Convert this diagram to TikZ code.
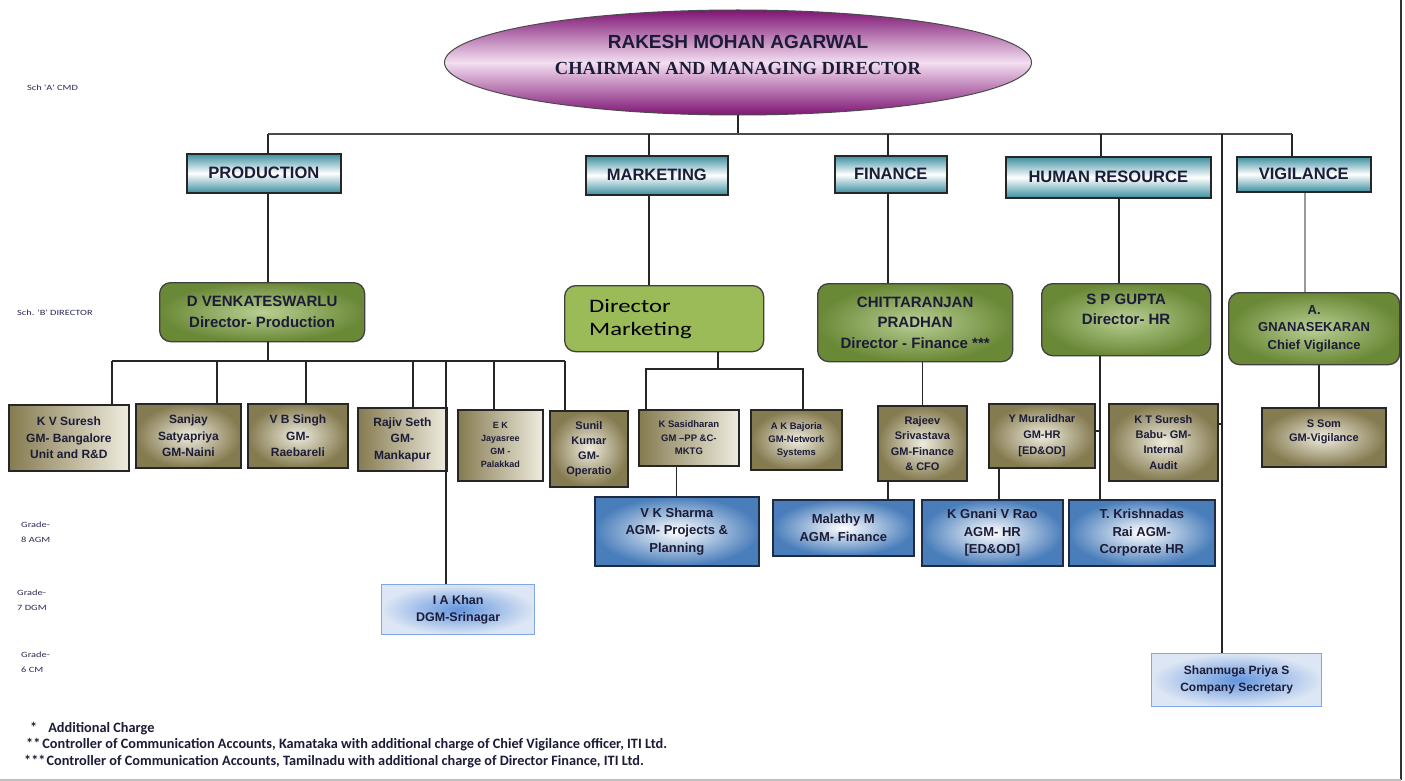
\documentclass[tikz,border=0pt]{standalone}
\usepackage{fontspec}
\setmainfont{Liberation Sans}
\newfontfamily\serifb{Liberation Serif}
\newfontfamily\calib{Carlito}
\newfontfamily\calibwide{Carlito}[FakeStretch=1.3]
\usetikzlibrary{shapes.geometric}
\newcommand\myfs[2]{\fontsize{#1}{#2}\selectfont}
\definecolor{txt}{HTML}{1C1C38}
\definecolor{purpleD}{HTML}{7E1574}
\definecolor{purpleL}{HTML}{F4DFF1}
\definecolor{tealD}{HTML}{3C8FA0}
\definecolor{greenD}{HTML}{6A8937}
\definecolor{greenL}{HTML}{B9CF93}
\definecolor{greenM}{HTML}{9BBB59}
\definecolor{oliveD}{HTML}{857B50}
\definecolor{oliveL}{HTML}{EFECDF}
\definecolor{blueD}{HTML}{4A7EBB}
\definecolor{navyB}{HTML}{1F2A44}
\definecolor{blueL}{HTML}{DCE6F4}
\definecolor{blueM}{HTML}{6495DE}
\definecolor{blueE}{HTML}{7FA6E6}
\definecolor{sideC}{HTML}{2A2A55}
\tikzset{
 base/.style={anchor=north west, inner sep=0pt, align=center, text=txt},
 dept/.style={base, draw=black!85, line width=1.6pt, top color=tealD, bottom color=tealD, middle color=white, font=\myfs{16.5}{18}\bfseries},
 dir/.style={base, draw=black!75, line width=1.3pt, rounded corners=11pt, inner color=greenL, outer color=greenD, font=\myfs{15}{21}\bfseries},
 gm/.style={base, draw=black!85, line width=1.8pt, font=\myfs{12}{16.5}\bfseries},
 gmlr/.style={gm, left color=oliveD, right color=oliveL},
 gmrad/.style={gm, inner color=oliveL, outer color=oliveD},
 agm/.style={base, draw=navyB, line width=1.6pt, inner color=white, outer color=blueD, font=\myfs{13}{17.5}\bfseries},
 lblue/.style={base, draw=blueE, line width=1.3pt, inner color=blueM, outer color=blueL, font=\myfs{12.5}{17}\bfseries},
 conn/.style={draw=black!85, line width=1.3pt},
 side/.style={font=\calibwide\myfs{8}{15}, text=sideC, anchor=west, inner sep=0pt, align=left},
 foot/.style={font=\calib\bfseries\myfs{14.3}{16}, text=txt, anchor=west, inner sep=0pt},
}
\begin{document}
\begin{tikzpicture}[x=1pt,y=-1pt]
\useasboundingbox (0,0) rectangle (1405,781);
\fill[white] (0,0) rectangle (1405,781);

% page border
\draw[black!80, line width=1.2pt] (1401,0) -- (1401,780);
\draw[black!25, line width=2pt] (0,780) -- (1401,780);

% chairman
\node[ellipse, draw=black!70, line width=1pt, top color=purpleD, bottom color=purpleD, middle color=purpleL,
      minimum width=587pt, minimum height=105pt, inner sep=0pt] (cmd) at (738,62.5) {};
\node[text=txt, align=center, inner sep=0pt, font=\myfs{19}{26}] (cmdt) at (738,55)
 {{\bfseries RAKESH MOHAN AGARWAL}\\{\serifb\myfs{18.5}{26}\bfseries CHAIRMAN AND MANAGING DIRECTOR}};

% departments
\node[dept, minimum width=154pt, minimum height=39pt] (prod) at (186,153) {PRODUCTION};
\node[dept, minimum width=142pt, minimum height=39pt] (mkt) at (585,155) {MARKETING};
\node[dept, minimum width=112pt, minimum height=37pt] (fin) at (834,155) {FINANCE};
\node[dept, minimum width=205pt, minimum height=41pt] (hr) at (1005,156) {HUMAN RESOURCE};
\node[dept, minimum width=134pt, minimum height=35pt] (vig) at (1236,156) {VIGILANCE};

% directors
\node[dir, minimum width=205pt, minimum height=59pt] (dprod) at (159,282) {D VENKATESWARLU\\Director- Production};
\node[base, draw=black!75, line width=1.3pt, rounded corners=11pt, fill=greenM, minimum width=199pt, minimum height=66pt,
      text width=150pt, align=left, font=\calibwide\myfs{19}{23}, text=black] (dmkt) at (564,285) {Director\\Marketing};
\node[dir, minimum width=195pt, minimum height=78pt, font=\myfs{15}{20.5}\bfseries] (dfin) at (817,283) {CHITTARANJAN\\PRADHAN\\Director - Finance ***};
\node[dir, minimum width=169pt, minimum height=72pt, font=\myfs{15}{20}\bfseries] (dhr) at (1041,283) {S P GUPTA\\Director- HR\\\mbox{}};
\node[dir, minimum width=171pt, minimum height=72pt, font=\myfs{13}{17.5}\bfseries] (dvig) at (1228,292) {A.\\GNANASEKARAN\\Chief Vigilance};

% GM level
\node[gmlr, minimum width=120pt, minimum height=66pt] (kvs) at (8,404) {K V Suresh\\GM- Bangalore\\Unit and R\&D};
\node[gmrad, minimum width=105pt, minimum height=64pt] (ssp) at (135,403) {Sanjay\\Satyapriya\\GM-Naini};
\node[gmrad, minimum width=100pt, minimum height=64pt] (vbs) at (247,403) {V B Singh\\GM-\\Raebareli};
\node[gmlr, minimum width=89pt, minimum height=63pt] (rjs) at (357,407) {Rajiv Seth\\GM-\\Mankapur};
\node[gmlr, minimum width=85pt, minimum height=71pt, font=\myfs{9}{13}\bfseries] (ekj) at (457,409) {E K\\Jayasree\\GM -\\Palakkad};
\node[gmrad, minimum width=78pt, minimum height=76pt, font=\myfs{11}{15}\bfseries] (skm) at (549,410) {Sunil\\Kumar\\GM-\\Operatio};
\node[gmlr, minimum width=100pt, minimum height=56pt, font=\myfs{9.5}{13.5}\bfseries] (ksd) at (638,409) {K Sasidharan\\GM --PP \&C-\\MKTG};
\node[gmrad, minimum width=91pt, minimum height=60pt, font=\myfs{9.5}{13}\bfseries] (akb) at (750,409) {A K Bajoria\\GM-Network\\Systems};
\node[gmrad, minimum width=89pt, minimum height=75pt, font=\myfs{11}{15.5}\bfseries] (rsv) at (877,405) {Rajeev\\Srivastava\\GM-Finance\\\& CFO};
\node[gmrad, minimum width=106pt, minimum height=64pt, font=\myfs{11}{16}\bfseries] (ymd) at (988,403) {Y Muralidhar\\GM-HR\\\mbox{[ED\&OD]}};
\node[gmrad, minimum width=109pt, minimum height=77pt, font=\myfs{11}{15.3}\bfseries] (kts) at (1108,403) {K T Suresh\\Babu- GM-\\Internal\\Audit};
\node[gmrad, minimum width=124pt, minimum height=59pt, font=\myfs{11}{14}\bfseries] (ssm) at (1261,407) {S Som\\GM-Vigilance\\\mbox{}};

% AGM level
\node[agm, minimum width=164pt, minimum height=69pt] (vks) at (594,496) {V K Sharma\\AGM- Projects \&\\Planning};
\node[agm, minimum width=141pt, minimum height=56pt] (mlm) at (772,499) {Malathy M\\AGM- Finance};
\node[agm, minimum width=141pt, minimum height=66pt] (kgv) at (921,499) {K Gnani V Rao\\AGM- HR\\\mbox{[ED\&OD]}};
\node[agm, minimum width=146pt, minimum height=66pt] (tkr) at (1068,499) {T. Krishnadas\\Rai AGM-\\Corporate HR};

% DGM / CM
\node[lblue, minimum width=153pt, minimum height=50pt] (iak) at (381,584) {I A Khan\\DGM-Srinagar};
\node[lblue, minimum width=170pt, minimum height=53pt, font=\myfs{12}{17}\bfseries] (spy) at (1151,653) {Shanmuga Priya S\\Company Secretary};

% ---- connectors ----
\coordinate (bus) at (738,134);
\coordinate (bL) at (268,134);
\coordinate (bR) at (1292,134);
\coordinate (bM) at (649,134);
\coordinate (bF) at (888,134);
\coordinate (bH) at (1101,134);
\coordinate (bC) at (1222,134);
\draw[conn] (cmd.south) -- (bus);
\draw[conn, draw=black!70, line width=1.3pt] (bL) -- (bR);
\draw[conn] (bL) -- (bL |- prod.north);
\draw[conn] (bM) -- (bM |- mkt.north);
\draw[conn] (bF) -- (bF |- fin.north);
\draw[conn] (bH) -- (bH |- hr.north);
\draw[conn] (bR) -- (bR |- vig.north);
\draw[conn] (bC) -- (bC |- spy.north);

\draw[conn] (bL |- prod.south) -- (bL |- dprod.north);
\draw[conn] (bM |- mkt.south) -- (bM |- dmkt.north);
\draw[conn] (bF |- fin.south) -- (bF |- dfin.north);
\coordinate (h1) at (1119,197);
\draw[conn] (h1 |- hr.south) -- (h1 |- dhr.north);
\coordinate (v1) at (1305,191);
\draw[conn, draw=black!40] (v1 |- vig.south) -- (v1 |- dvig.north);

% production
\coordinate (pb) at (268,361);
\coordinate (pbL) at (112,361);
\coordinate (pbR) at (565,361);
\coordinate (p2) at (217,361);
\coordinate (p3) at (306,361);
\coordinate (p4) at (413,361);
\coordinate (p5) at (446,361);
\coordinate (p6) at (494,361);
\draw[conn] (pb |- dprod.south) -- (pb);
\draw[conn] (pbL) -- (pbR);
\draw[conn] (pbL) -- (pbL |- kvs.north);
\draw[conn] (p2) -- (p2 |- ssp.north);
\draw[conn] (p3) -- (p3 |- vbs.north);
\draw[conn] (p4) -- (p4 |- rjs.north);
\draw[conn] (p5) -- (p5 |- iak.north);
\draw[conn, line width=2.6pt] (p6) -- (p6 |- ekj.north);
\draw[conn] (pbR) -- (pbR |- skm.north);

% marketing
\coordinate (mb) at (718,369);
\coordinate (mbL) at (646,369);
\coordinate (mbR) at (803,369);
\draw[conn] (mb |- dmkt.south) -- (mb);
\draw[conn, line width=2.6pt] (mbL |- ksd.north) -- (mbL) -- (mbR) -- (mbR |- akb.north);
\draw[conn] (vks.north |- ksd.south) -- (vks.north);

% finance
\draw[conn] (rsv.north |- dfin.south) -- (rsv.north);
\coordinate (f2) at (888,480);
\draw[conn] (f2 |- rsv.south) -- (f2 |- mlm.north);

% human resource
\coordinate (h2) at (1100,355);
\coordinate (h3) at (999,467);
\coordinate (kt) at (1222,424);
\coordinate (ym) at (1100,431);
\draw[conn] (h2 |- dhr.south) -- (h2 |- tkr.north);
\draw[conn, line width=2.2pt] (ym -| ymd.east) -- (ym);
\draw[conn, line width=2.2pt] (kt -| kts.east) -- (kt);
\draw[conn] (h3 |- ymd.south) -- (h3 |- kgv.north);

% vigilance
\coordinate (v2) at (1319,363);
\draw[conn] (v2 |- dvig.south) -- (v2 |- ssm.north);

% side labels
\node[side] (l1) at (27,88) {Sch 'A' CMD};
\node[side] (l2) at (17,313) {Sch. 'B' DIRECTOR};
\node[side] (l3) at (21,532) {Grade-\\8 AGM};
\node[side] (l4) at (17,600) {Grade-\\7 DGM};
\node[side] (l5) at (21,662) {Grade-\\6 CM};

% footnotes
\node[foot] (n1) at (30,729) {*\hspace{11pt}Additional Charge};
\node[foot] (n2) at (26,745) {**\hspace{2pt}Controller of Communication Accounts, Kamataka with additional charge of Chief Vigilance officer, ITI Ltd.};
\node[foot] (n3) at (24,762) {***\hspace{1pt}Controller of Communication Accounts, Tamilnadu with additional charge of Director Finance, ITI Ltd.};
\end{tikzpicture}
\end{document}
